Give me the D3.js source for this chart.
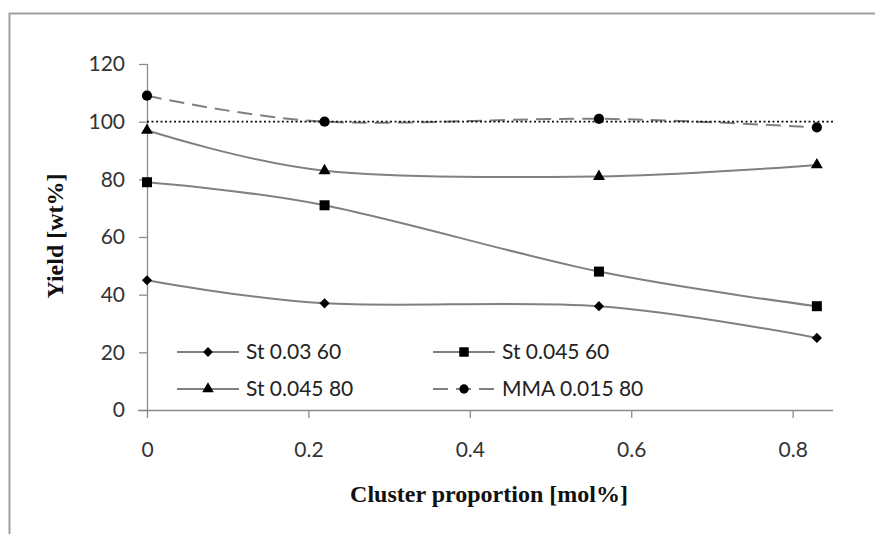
<!DOCTYPE html>
<html>
<head>
<meta charset="utf-8">
<script src="https://cdn.jsdelivr.net/npm/d3@7"></script>
<style>
  html, body { margin: 0; padding: 0; background: #fff; }
  svg { display: block; }
</style>
</head>
<body>
<svg id="chart" width="875" height="534"></svg>
<script>
// Cluster proportion (mol%) at which yields were measured
const clusterProportion = [0, 0.22, 0.56, 0.83];

// Yield (wt%) per polymerisation series
const seriesNames = ["St 0.03 60", "St 0.045 60", "St 0.045 80", "MMA 0.015 80"];
const yieldSt003_60 = [45, 37, 36, 25];
const yieldSt0045_60 = [79, 71, 48, 36];
const yieldSt0045_80 = [97, 83, 81, 85];
const yieldMMA0015_80 = [109, 100, 101, 98];
const seriesMarkers = ["diamond", "square", "triangle", "circle"];

// 100 % reference line
const referenceYield = 100;

const xTicks = [0, 0.2, 0.4, 0.6, 0.8];
const yTicks = [0, 20, 40, 60, 80, 100, 120];

const svg = d3.select("#chart");

// Outer chart frame
svg.append("rect")
  .attr("x", 9.5).attr("y", 13.5)
  .attr("width", 900).attr("height", 600)
  .attr("fill", "#fff")
  .attr("stroke", "#a0a0a0").attr("stroke-width", 2);

const x = d3.scaleLinear().domain([0, 0.85]).range([147, 833]);
const y = d3.scaleLinear().domain([0, 120]).range([410, 64]);

const tickFont = "Lato, 'Open Sans', sans-serif";
const titleFont = "'Liberation Serif', 'Times New Roman', serif";
const axisColor = "#8c8c8c";

// Y axis
const yAxis = svg.append("g")
  .attr("transform", `translate(${x(0)},0)`)
  .call(d3.axisLeft(y).tickValues(yTicks).tickSize(8).tickPadding(14).tickFormat(d3.format("d")));
// X axis
const xAxis = svg.append("g")
  .attr("transform", `translate(0,${y(0)})`)
  .call(d3.axisBottom(x).tickValues(xTicks).tickSize(8).tickPadding(24).tickFormat(d => d === 0 ? "0" : d3.format(".1f")(d)));

[yAxis, xAxis].forEach(g => {
  g.select(".domain").attr("stroke", axisColor).attr("stroke-width", 1.3);
  g.selectAll(".tick line").attr("stroke", axisColor).attr("stroke-width", 1.3);
  g.selectAll(".tick text")
    .attr("fill", "#333")
    .style("font-family", tickFont)
    .style("font-size", "21px");
});
// x axis line extends a little left of the y axis
xAxis.select(".domain").attr("d", `M${x(0) - 9},0.5H${x(0.85)}`);
yAxis.select(".domain").attr("d", `M0.5,${y(0)}V${y(120)}`);

// Axis titles
svg.append("text")
  .attr("x", 489).attr("y", 502)
  .attr("text-anchor", "middle")
  .style("font-family", titleFont)
  .style("font-weight", "bold").style("font-size", "24px")
  .attr("fill", "#111")
  .text("Cluster proportion [mol%]");
svg.append("text")
  .attr("transform", "translate(63,236) rotate(-90)")
  .attr("text-anchor", "middle")
  .style("font-family", titleFont)
  .style("font-weight", "bold").style("font-size", "24px")
  .attr("fill", "#111")
  .text("Yield [wt%]");

const seriesValues = [yieldSt003_60, yieldSt0045_60, yieldSt0045_80, yieldMMA0015_80];
const series = seriesNames.map((name, i) => ({
  name,
  marker: seriesMarkers[i],
  dashed: i === 3,
  points: clusterProportion.map((c, j) => ({ x: c, y: seriesValues[i][j] }))
}));

// Marker shapes; the diamond is a square turned by 45 degrees
const symbolTypes = {
  diamond: d3.symbolSquare,
  square: d3.symbolSquare,
  triangle: d3.symbolTriangle,
  circle: d3.symbolCircle
};
const symbolRotation = { diamond: 45, square: 0, triangle: 0, circle: 0 };
const plotSizes = { diamond: 52, square: 100, triangle: 62, circle: 82 };
const legendSizes = { diamond: 48, square: 90, triangle: 58, circle: 68 };

const line = d3.line()
  .x(d => x(d.x)).y(d => y(d.y))
  .curve(d3.curveCatmullRom.alpha(0));

const lineColor = "#808080";

// Series lines
series.forEach(s => {
  svg.append("path")
    .datum(s.points)
    .attr("d", line)
    .attr("fill", "none")
    .attr("stroke", lineColor)
    .attr("stroke-width", 2)
    .attr("stroke-dasharray", s.dashed ? "15,8" : null);
});

// 100 % reference line (dotted)
svg.append("line")
  .attr("x1", x(0)).attr("x2", x(0.85))
  .attr("y1", y(referenceYield)).attr("y2", y(referenceYield))
  .attr("stroke", "#111").attr("stroke-width", 1.6)
  .attr("stroke-dasharray", "2,2.5");

// Series markers
series.forEach(s => {
  svg.append("g").selectAll("path")
    .data(s.points)
    .join("path")
    .attr("transform", d => `translate(${x(d.x)},${y(d.y)}) rotate(${symbolRotation[s.marker]})`)
    .attr("d", d3.symbol().type(symbolTypes[s.marker]).size(plotSizes[s.marker]))
    .attr("fill", "#000");
});

// Legend, two columns inside the plot area
const legendCols = [177, 433];
const legendRows = [352, 389];
series.forEach((s, i) => {
  const lx = legendCols[i % 2];
  const ly = legendRows[Math.floor(i / 2)];
  const g = svg.append("g").attr("transform", `translate(${lx},${ly})`);
  g.append("line")
    .attr("x1", 0).attr("x2", 62).attr("y1", 0).attr("y2", 0)
    .attr("stroke", lineColor).attr("stroke-width", 2)
    .attr("stroke-dasharray", s.dashed ? "15,8" : null);
  g.append("path")
    .attr("transform", `translate(31,0) rotate(${symbolRotation[s.marker]})`)
    .attr("d", d3.symbol().type(symbolTypes[s.marker]).size(legendSizes[s.marker]))
    .attr("fill", "#000");
  g.append("text")
    .attr("x", 69).attr("y", 0).attr("dy", "0.35em")
    .attr("fill", "#222")
    .style("font-family", tickFont)
    .style("font-size", "21px")
    .text(s.name);
});
</script>
</body>
</html>
